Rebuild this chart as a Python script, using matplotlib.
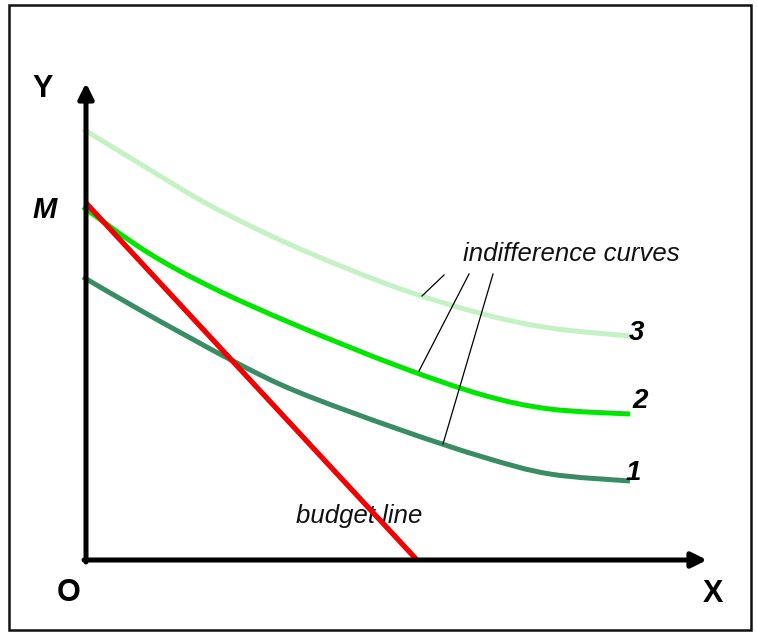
import matplotlib
matplotlib.use("Agg")
import matplotlib.pyplot as plt
from matplotlib.patches import Rectangle, ArrowStyle, PathPatch
from matplotlib.path import Path

# ---- data (units measured from the origin O) ----
curve3_x = [-3, 61, 127, 212, 312, 397, 464, 544]
curve3_y = [431, 392, 353, 312, 272, 246, 232, 224]

curve2_x = [-3, 61, 127, 212, 312, 397, 464, 544]
curve2_y = [353, 308, 272, 234, 194, 165, 151, 146]

curve1_x = [-3, 61, 149, 212, 312, 397, 464, 544]
curve1_y = [283, 246, 198, 168, 131, 103, 86, 79]

budget_x = [0, 331]
budget_y = [357, 0]

curve_labels = ["1", "2", "3"]
label_x = [540, 546, 543]
label_y = [80, 152, 220]

pointer_start = [(358, 285), (383, 286), (407, 286)]
pointer_end = [(336, 264), (333, 189), (357, 116)]

y_axis_top = 477
x_axis_right = 621


def smooth_path(xs, ys):
    """Catmull-Rom curve through the given points, as cubic Bezier segments."""
    pts = list(zip(xs, ys))
    verts = [pts[0]]
    codes = [Path.MOVETO]
    n = len(pts)
    for i in range(n - 1):
        p0 = pts[i - 1] if i > 0 else pts[i]
        p1 = pts[i]
        p2 = pts[i + 1]
        p3 = pts[i + 2] if i + 2 < n else pts[i + 1]
        c1 = (p1[0] + (p2[0] - p0[0]) / 6, p1[1] + (p2[1] - p0[1]) / 6)
        c2 = (p2[0] - (p3[0] - p1[0]) / 6, p2[1] - (p3[1] - p1[1]) / 6)
        verts += [c1, c2, p2]
        codes += [Path.CURVE4] * 3
    return Path(verts, codes)


# ---- figure ----
W, H = 757, 632
fig = plt.figure(figsize=(W / 100, H / 100), dpi=100)
fig.patch.set_facecolor("white")
ax = fig.add_axes([0, 0, 1, 1])
ax.set_xlim(-86, W - 86)
ax.set_ylim(560 - H, 560)
ax.axis("off")

# frame
fig.patches.append(Rectangle((9 / W, 2 / H), 742 / W, 625 / H, transform=fig.transFigure,
                             fill=False, edgecolor="#111111", linewidth=1.8))

# indifference curves
for xs, ys, col in [(curve3_x, curve3_y, "#c4f2c4"),
                    (curve2_x, curve2_y, "#00e600"),
                    (curve1_x, curve1_y, "#3a8c64")]:
    ax.add_patch(PathPatch(smooth_path(xs, ys), facecolor="none", edgecolor=col,
                           lw=3.6, capstyle="butt", zorder=2))

# budget line
ax.plot(budget_x, budget_y, color="#f00000", lw=3.8, solid_capstyle="butt", zorder=3)

# pointer lines
for (x0, y0), (x1, y1) in zip(pointer_start, pointer_end):
    ax.plot([x0, x1], [y0, y1], color="black", lw=0.9, zorder=4)

# axes with arrows
style = ArrowStyle("-|>", head_length=0.5, head_width=0.25)
ax.annotate("", xy=(0, y_axis_top), xytext=(0, -2),
            arrowprops=dict(arrowstyle=style, lw=3.6, color="black",
                            shrinkA=0, shrinkB=0, mutation_scale=18), zorder=5)
ax.annotate("", xy=(x_axis_right, 0), xytext=(-2, 0),
            arrowprops=dict(arrowstyle=style, lw=3.6, color="black",
                            shrinkA=0, shrinkB=0, mutation_scale=18), zorder=5)

font = "Liberation Sans"
ax.text(-43, 463, "Y", fontsize=22, fontweight="bold", family=font, ha="center", va="baseline")
ax.text(-41, 342, "M", fontsize=21, fontweight="bold", style="italic", family=font,
        ha="center", va="baseline")
ax.text(-17, -41, "O", fontsize=22, fontweight="bold", family=font, ha="center", va="baseline")
ax.text(627, -42, "X", fontsize=22, fontweight="bold", family=font, ha="center", va="baseline")

for t, x, y in zip(curve_labels, label_x, label_y):
    ax.text(x, y, t, fontsize=20, fontweight="bold", style="italic", family=font,
            ha="left", va="baseline")

ax.text(377, 299, "indifference curves", fontsize=18.5, style="italic", family=font,
        ha="left", va="baseline", color="#111111")
ax.text(210, 37, "budget line", fontsize=18.5, style="italic", family=font,
        ha="left", va="baseline", color="#111111", zorder=2)

fig.savefig("out.png", dpi=100, facecolor="white")
